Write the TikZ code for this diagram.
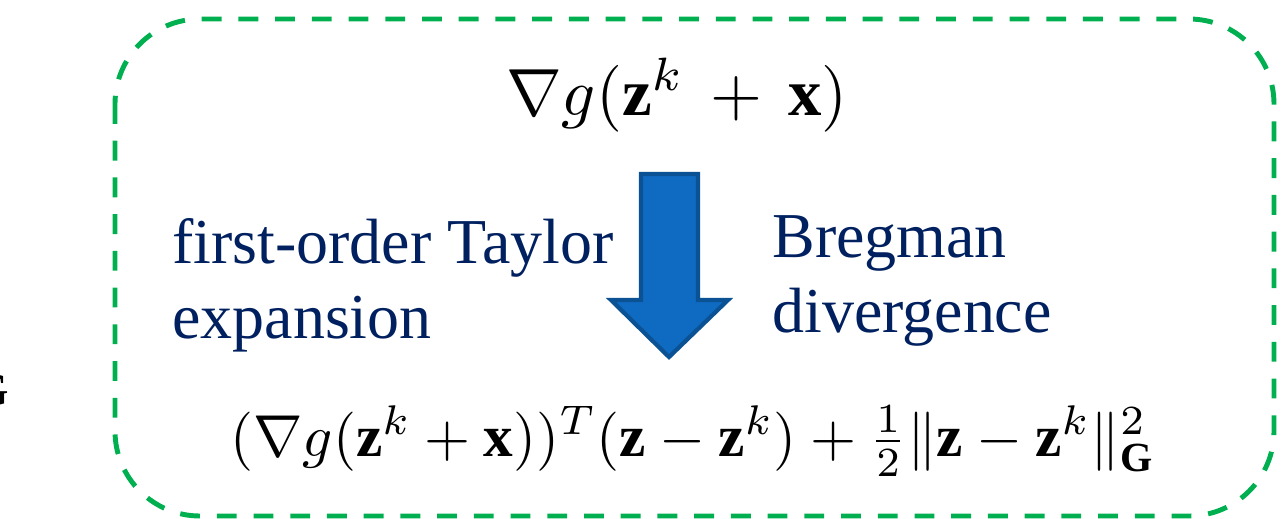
\documentclass[tikz,border=0pt]{standalone}
\usepackage{fontspec}
\setmainfont{Liberation Serif}
\usepackage{amsmath}
\usetikzlibrary{positioning}
\definecolor{boxGreen}{HTML}{00B050}
\definecolor{arrowBlue}{HTML}{0F6BC2}
\definecolor{arrowEdge}{HTML}{0B5294}
\definecolor{textNavy}{HTML}{002060}

\begin{document}
\begin{tikzpicture}[x=0.02cm, y=-0.02cm,
      frame/.style={draw=boxGreen, line width=2.8pt, dash pattern=on 11.3pt off 9.6pt,
                    rounded corners=1.7cm},
      bigarrow/.style={draw=arrowEdge, line width=2.4pt, fill=arrowBlue, line join=miter},
      lbl/.style={text=textNavy, font=\fontsize{36.4}{42.5}\selectfont, align=left,
                  inner sep=0pt, anchor=base west},
      eq/.style={inner sep=0pt, anchor=base, scale=#1}]
    \useasboundingbox (0,0) rectangle (1288,518);
    \node[eq=2.66, anchor=base east] (gcut) at (10,405) {$\mathbf{G}$};
    \draw[frame] (115,19) rectangle (1274,516);
    \node[eq=3.8] (grad) at (677,115) {$\nabla g(\mathbf{z}^k\,+\,\mathbf{x})$};
    \draw[bigarrow] (641,174) -- (698,174) -- (698,300) -- (728,300) -- (669,357)
                    -- (611,300) -- (641,300) -- cycle;
    \node[lbl] (taylor) at (172,338) {first-order Taylor\\expansion};
    \node[lbl] (bregman) at (772,332) {Bregman\\divergence};
    \node[eq=3.37] (approx) at (693,456)
      {$(\nabla g(\mathbf{z}^k+\mathbf{x}))^T(\mathbf{z}-\mathbf{z}^k)+\frac{1}{2}\|\mathbf{z}-\mathbf{z}^k\|_{\mathbf{G}}^2$};
  \end{tikzpicture}
\end{document}
